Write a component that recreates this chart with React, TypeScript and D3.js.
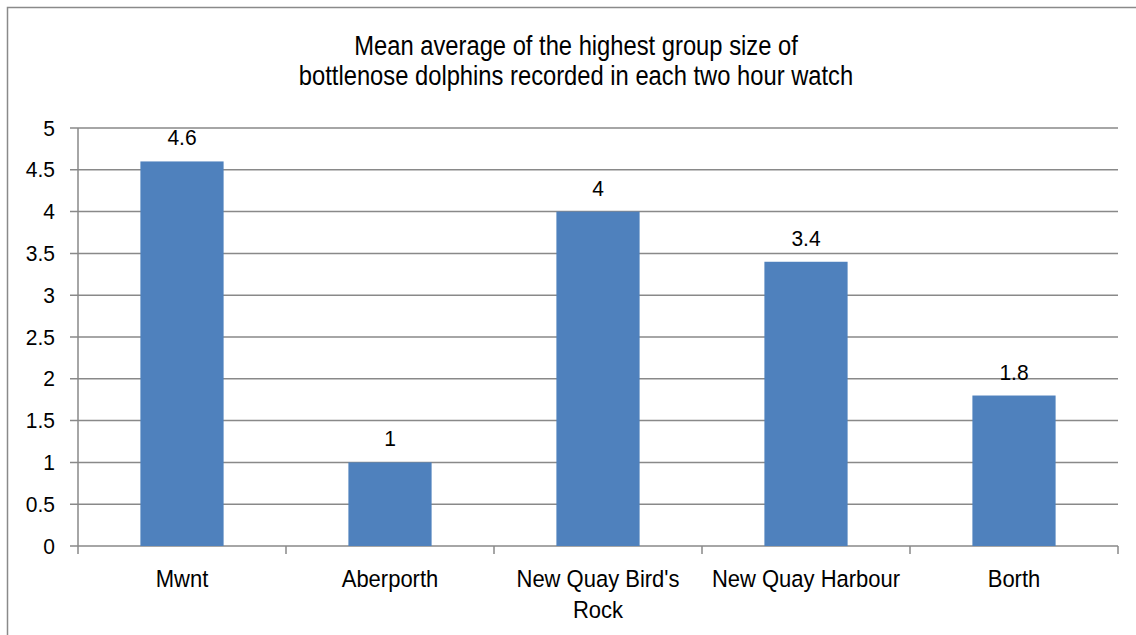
import React from "react";
import * as d3 from "d3";

const categories: string[][] = [["Mwnt"], ["Aberporth"], ["New Quay Bird's", "Rock"], ["New Quay Harbour"], ["Borth"]];
const values: number[] = [4.6, 1, 4, 3.4, 1.8];
const yTicks: number[] = [0, 0.5, 1, 1.5, 2, 2.5, 3, 3.5, 4, 4.5, 5];
const titleLines: string[] = ["Mean average of the highest group size of", "bottlenose dolphins recorded in each two hour watch"];

const W = 1136, H = 635;
const left = 78, right = 1118, top = 128, bottom = 546;
const FONT = "'Liberation Sans', Arial, sans-serif";

function T({ x, y, size, anchor, sx = 1, sy = 1, children }: { x: number; y: number; size: number; anchor: string; sx?: number; sy?: number; children: React.ReactNode }) {
  return (
    <text transform={`translate(${x},${y}) scale(${sx},${sy})`} textAnchor={anchor} fontSize={size} fill="#000">
      {children}
    </text>
  );
}

export default function App() {
  const keys = categories.map((c) => c.join(" "));
  const x = d3.scaleBand<string>().domain(keys).range([left, right]).paddingInner(0.6).paddingOuter(0.3);
  const y = d3.scaleLinear().domain([0, 5]).range([bottom, top]);
  const band = (right - left) / keys.length;
  const boundaries = d3.range(keys.length + 1).map((i) => left + i * band);
  const grid = "#898989";
  return (
    <svg width={W} height={H} style={{ position: "absolute", left: 0, top: 0, background: "#fff" }} fontFamily={FONT}>
      <rect x={7.5} y={7.5} width={W + 10} height={H + 10} fill="#fff" stroke="#8a8a8a" strokeWidth={1.5} />
      {titleLines.map((t, i) => (
        <T key={i} x={576} y={55 + i * 30} size={25} anchor="middle" sx={0.95} sy={1.1}>{t}</T>
      ))}
      {yTicks.map((t) => (
        <g key={t}>
          <line x1={left - 8} x2={right} y1={y(t)} y2={y(t)} stroke={grid} strokeWidth={1.5} />
          <T x={55} y={y(t) + 7.5} size={21} anchor="end" sy={1.05}>{t}</T>
        </g>
      ))}
      <line x1={left} x2={left} y1={top} y2={bottom} stroke={grid} strokeWidth={1.5} />
      {boundaries.map((b, i) => (
        <line key={i} x1={b} x2={b} y1={bottom} y2={bottom + 8} stroke={grid} strokeWidth={1.5} />
      ))}
      {keys.map((k, i) => (
        <g key={k}>
          <rect x={x(k)} y={y(values[i])} width={x.bandwidth()} height={bottom - y(values[i])} fill="#4F81BD" />
          <T x={x(k)! + x.bandwidth() / 2} y={y(values[i]) - 16} size={21} anchor="middle" sy={1.05}>{values[i]}</T>
          {categories[i].map((line, j) => (
            <T key={j} x={x(k)! + x.bandwidth() / 2} y={587 + j * 31} size={22} anchor="middle" sy={1.08}>{line}</T>
          ))}
        </g>
      ))}
    </svg>
  );
}
